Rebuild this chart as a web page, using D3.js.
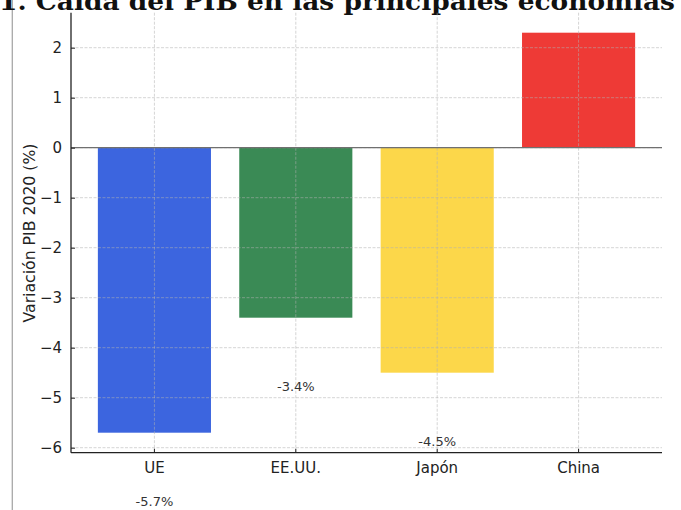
<!DOCTYPE html>
<html>
<head>
<meta charset="utf-8">
<script src="https://cdn.jsdelivr.net/npm/d3@7"></script>
<style>
  html, body { margin: 0; padding: 0; background: #fff; }
  svg { display: block; }
</style>
</head>
<body>
<script>
// GDP change in 2020 for the main economies
const categories = ["UE", "EE.UU.", "Japón", "China"];
const values = [-5.7, -3.4, -4.5, 2.3];
const barColors = ["#3c65df", "#3a8a55", "#fcd74a", "#ee3a36"];
const yTicks = [-6, -5, -4, -3, -2, -1, 0, 1, 2];
const titleText = "1. Caída del PIB en las principales economías";
const yLabel = "Variación PIB 2020 (%)";

const W = 681, H = 510;
const margin = { left: 71, right: 19, top: 12.7, bottom: 57.3 };
const plotW = W - margin.left - margin.right;
const plotH = H - margin.top - margin.bottom;

const svg = d3.select("body").append("svg")
  .attr("width", W).attr("height", H);

// page border line on the left
svg.append("line")
  .attr("x1", 12.3).attr("x2", 12.3).attr("y1", 0).attr("y2", H)
  .attr("stroke", "#a8a8a8").attr("stroke-width", 1.3);

// title, partially above the visible area
svg.append("text")
  .attr("x", -1).attr("y", 9.5)
  .attr("font-family", "DejaVu Serif")
  .attr("font-weight", "bold")
  .attr("font-size", 24)
  .attr("textLength", 676)
  .attr("lengthAdjust", "spacingAndGlyphs")
  .attr("fill", "#111")
  .text(titleText);

const g = svg.append("g").attr("transform", `translate(${margin.left},${margin.top})`);

const x = d3.scaleBand()
  .domain(categories)
  .range([0, plotW])
  .paddingInner(0.2)
  .paddingOuter(0.19);

const y = d3.scaleLinear()
  .domain([-6.1, 2.7])
  .range([plotH, 0]);

// bars
g.selectAll("rect.bar")
  .data(values)
  .join("rect")
  .attr("class", "bar")
  .attr("x", (d, i) => x(categories[i]))
  .attr("width", x.bandwidth())
  .attr("y", d => y(Math.max(0, d)))
  .attr("height", d => Math.abs(y(d) - y(0)))
  .attr("fill", (d, i) => barColors[i]);

// dashed grid, drawn above the bars
const grid = g.append("g")
  .attr("stroke", "#b0b0b0")
  .attr("stroke-opacity", 0.6)
  .attr("stroke-width", 0.9)
  .attr("stroke-dasharray", "3,1.5");

grid.selectAll("line.h")
  .data(yTicks)
  .join("line")
  .attr("class", "h")
  .attr("x1", 0).attr("x2", plotW)
  .attr("y1", d => y(d)).attr("y2", d => y(d));

grid.selectAll("line.v")
  .data(categories)
  .join("line")
  .attr("class", "v")
  .attr("x1", d => x(d) + x.bandwidth() / 2)
  .attr("x2", d => x(d) + x.bandwidth() / 2)
  .attr("y1", 0).attr("y2", plotH);

// zero reference line
g.append("line")
  .attr("x1", 0).attr("x2", plotW)
  .attr("y1", y(0)).attr("y2", y(0))
  .attr("stroke", "#707070")
  .attr("stroke-width", 1.3);

// axes
const fmt = d => (d < 0 ? "\u2212" + Math.abs(d) : String(d));

const yAxis = g.append("g")
  .call(d3.axisLeft(y).tickValues(yTicks).tickFormat(fmt).tickSize(-4).tickPadding(9));
const xAxis = g.append("g")
  .attr("transform", `translate(0,${plotH})`)
  .call(d3.axisBottom(x).tickSize(-4).tickPadding(10));

[yAxis, xAxis].forEach(ax => {
  ax.select(".domain").attr("stroke", "#222").attr("stroke-width", 1.3);
  ax.selectAll(".tick line").attr("stroke", "#222").attr("stroke-width", 1);
  ax.selectAll(".tick text")
    .attr("font-family", "DejaVu Sans")
    .attr("font-size", 15)
    .attr("fill", "#222");
});
// spines span the data area only, no end caps
yAxis.select(".domain").attr("d", `M0,0V${plotH}`);
xAxis.select(".domain").attr("d", `M0,0H${plotW}`);

// y axis title
svg.append("text")
  .attr("transform", `translate(35,233) rotate(-90)`)
  .attr("text-anchor", "middle")
  .attr("font-family", "DejaVu Sans")
  .attr("font-size", 15.7)
  .attr("fill", "#222")
  .text(yLabel);

// value labels, placed 1.5 units below each bar's value
g.selectAll("text.val")
  .data(values)
  .join("text")
  .attr("class", "val")
  .attr("x", (d, i) => x(categories[i]) + x.bandwidth() / 2)
  .attr("y", d => y(d - 1.5) - 2)
  .attr("text-anchor", "middle")
  .attr("font-family", "DejaVu Sans")
  .attr("font-size", 13)
  .attr("fill", "#333")
  .text((d, i) => i === 3 ? "" : d.toFixed(1) + "%");
</script>
</body>
</html>
